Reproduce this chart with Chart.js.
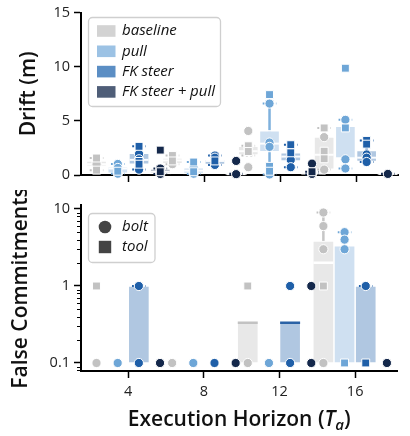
<!DOCTYPE html>
<html><head><meta charset="utf-8">
<script src="https://cdn.jsdelivr.net/npm/chart.js@4.4.0/dist/chart.umd.min.js"></script>
<style>
html,body{margin:0;padding:0;background:#fff;}
body{width:410px;height:436px;position:relative;overflow:hidden}
canvas{position:absolute;left:0}
#topChart{top:0}
#botChart{top:190px}
</style></head>
<body>
<canvas id="topChart" width="410" height="190"></canvas>
<canvas id="botChart" width="410" height="246"></canvas>
<script>
// ---------------- data ----------------
const horizons = [4, 8, 12, 16];
const methods = ['baseline', 'pull', 'FK steer', 'FK steer + pull'];
const markerKinds = ['bolt', 'tool'];
const driftTicks = [0, 5, 10, 15];
const fcTicks = [0.1, 1, 10];

// Drift (m) box stats per horizon: [whisker low, q1, median, q3, whisker high]
const driftBoxBaseline = [[0.45,0.78,1.0,1.33,1.57],[1.0,1.0,1.35,1.6,1.8],[1.8,1.8,2.2,2.7,2.7],[0.5,0.5,1.87,3.55,4.35]];
const driftBoxPull     = [[0.12,0.12,0.6,0.8,1.02],[0.1,0.1,0.4,0.72,1.2],[0.05,2.1,2.9,4.12,6.6],[0.6,1.45,1.55,4.55,5.1]];
const driftBoxFK       = [[0.5,0.95,1.4,2.05,2.65],[0.93,0.93,1.3,1.5,1.8],[0.72,1.25,1.7,2.1,2.8],[1.2,1.2,1.6,2.3,3.2]];
const driftBoxFKPull   = [[0.1,0.1,0.3,0.6,0.6],[0.06,0.06,0.08,0.12,0.12],[0.05,0.05,0.2,0.3,0.3],[0.08,0.08,0.1,0.12,0.12]];

// Drift (m) individual trials per horizon (bolt = circle, tool = square)
const driftBaselineBolt = [[1.2,1.0],[1.45,1.0],[4.07,2.55,0.72],[3.5,0.5]];
const driftBaselineTool = [[1.57,0.45],[1.8,1.3],[2.7,2.17],[4.35,2.2,1.5]];
const driftPullBolt     = [[1.02,0.65,0.12],[0.65,0.12],[6.6,3.0,2.6,0.05],[5.1,1.45,0.6]];
const driftPullTool     = [[0.35],[1.2,0.3],[7.43,0.8,0.35],[9.87,4.35]];
const driftFKBolt       = [[1.95,1.45,0.5],[1.8,1.6,0.93],[1.4,0.72],[1.9,1.6,1.2]];
const driftFKTool       = [[2.65,1.25,1.0],[1.3],[2.8,2.05],[3.2,2.85]];
const driftFKPullBolt   = [[0.6,0.1],[1.3,0.08],[1.05,0.1],[0.1]];
const driftFKPullTool   = [[2.3,0.3],[],[0.3],[]];

// False commitments: bar heights per horizon (0 = no bar)
const fcBarBaseline = [0, 0, 0.333, 3.84];
const fcBarPull     = [0, 0, 0, 3.33];
const fcBarFK       = [1, 0, 0.333, 1];
const fcBarFKPull   = [0, 0, 0, 0];
// False commitments: spread lines [low, high] per horizon
const fcSpreadBaseline = [null, null, null, [3, 9]];
const fcSpreadPull     = [null, null, null, [3, 5]];
const fcSpreadFK       = [[1, 1], null, null, [1, 1]];
const fcSpreadFKPull   = [null, null, null, null];
// False commitments: horizontal marks per horizon
const fcMarkBaseline = [null, null, 0.333, 2];
const fcMarkFK       = [null, null, 0.333, null];
// False commitments: individual trials per horizon (0 shown at floor)
const fcBaselineBolt = [[0],[0],[0],[9,6,3,0]];
const fcBaselineTool = [[1],[],[1],[1]];
const fcPullBolt     = [[0],[0],[0],[5,4,3]];
const fcPullTool     = [[],[],[],[0]];
const fcFKBolt       = [[1,0],[0],[1,0],[1]];
const fcFKTool       = [[],[],[],[0]];
const fcFKPullBolt   = [[0],[0],[1,0],[0]];
const fcFKPullTool   = [[],[],[],[]];
const fcFloor = 0.1;

// ---------------- styles ----------------
Chart.defaults.font.family = '"Open Sans", "DejaVu Sans", sans-serif';
const X_OFF = [-1.68, -0.56, 0.56, 1.68];
const COL_PT = ['#c2c2c2', '#6ea6d7', '#1f5fa8', '#14284b'];
const COL_FILL = ['#e8e8e8', '#cfe0f1', '#b0c7e1', '#a6aebd'];
const COL_WHISK = ['#c6c6c6', '#7fb1dd', '#3d76b6', '#4a5a78'];
const COL_LEG = ['#d3d3d3', '#9cc2e4', '#5b8ec4', '#4f5e78'];
const BAR_W = 21;

const pos = (h, m) => h + X_OFF[m];

const driftBoxes = [driftBoxBaseline, driftBoxPull, driftBoxFK, driftBoxFKPull];
const driftBolt = [driftBaselineBolt, driftPullBolt, driftFKBolt, driftFKPullBolt];
const driftTool = [driftBaselineTool, driftPullTool, driftFKTool, driftFKPullTool];
const fcBars = [fcBarBaseline, fcBarPull, fcBarFK, fcBarFKPull];
const fcSpreads = [fcSpreadBaseline, fcSpreadPull, fcSpreadFK, fcSpreadFKPull];
const fcBolt = [fcBaselineBolt, fcPullBolt, fcFKBolt, fcFKPullBolt];
const fcTool = [fcBaselineTool, fcPullTool, fcFKTool, fcFKPullTool];

function pointsFor(bolt, tool, m, floor) {
  const out = [];
  horizons.forEach((h, i) => {
    bolt[i].forEach(v => out.push({x: pos(h, m), y: floor ? Math.max(v, floor) : v, s: 'circle'}));
    tool[i].forEach(v => out.push({x: pos(h, m), y: floor ? Math.max(v, floor) : v, s: 'rect'}));
  });
  return out;
}
function pointDataset(data, m) {
  return {type: 'scatter', data, order: 0, clip: false,
    backgroundColor: COL_PT[m], borderColor: '#ffffff', borderWidth: 1,
    pointStyle: c => (c.raw && c.raw.s === 'rect') ? 'rect' : 'circle',
    pointRadius: c => (c.raw && c.raw.s === 'rect') ? 5.6 : 4.6};
}
function capDataset(pairs, m) {
  const data = [];
  pairs.forEach(([x, y]) => { data.push({x: x - 0.36, y}, {x: x + 0.36, y}, {x, y: null}); });
  return {type: 'line', data, order: 1, clip: false, borderColor: COL_PT[m], borderWidth: 2,
    borderDash: [2, 2.4], pointRadius: 0, spanGaps: false, fill: false};
}
function vlineDataset(segs, m, width) {
  const data = [];
  segs.forEach(([x, a, b]) => { data.push({x, y: a}, {x, y: b}, {x, y: null}); });
  return {type: 'line', data, order: 4, borderColor: COL_WHISK[m], borderWidth: width,
    pointRadius: 0, spanGaps: false, fill: false};
}

// ---------------- top chart datasets ----------------
const topDatasets = [];
for (let m = 0; m < 4; m++) {
  const box = driftBoxes[m];
  topDatasets.push({type: 'bar', label: methods[m], order: 3, grouped: false,
    data: horizons.map((h, i) => ({x: pos(h, m), y: [box[i][1], box[i][3]]})),
    backgroundColor: COL_FILL[m], borderColor: 'rgba(255,255,255,0.9)', borderWidth: 1.5,
    borderSkipped: false, barThickness: BAR_W});
  topDatasets.push(vlineDataset(horizons.map((h, i) => [pos(h, m), box[i][0], box[i][4]]), m, 2.5));
  const caps = [];
  horizons.forEach((h, i) => { caps.push([pos(h, m), box[i][0]], [pos(h, m), box[i][4]]); });
  topDatasets.push(capDataset(caps, m));
  topDatasets.push({type: 'scatter', order: 2, clip: false,
    data: horizons.map((h, i) => ({x: pos(h, m), y: box[i][2]})),
    pointStyle: 'line', pointRadius: 9.5, borderColor: 'rgba(255,255,255,0.95)', borderWidth: 2});
  topDatasets.push(pointDataset(pointsFor(driftBolt[m], driftTool[m], m, 0), m));
}

// ---------------- bottom chart datasets ----------------
const botDatasets = [];
for (let m = 0; m < 4; m++) {
  const bars = [];
  horizons.forEach((h, i) => { if (fcBars[m][i] > 0) bars.push({x: pos(h, m), y: [fcFloor, fcBars[m][i]]}); });
  botDatasets.push({type: 'bar', label: methods[m], order: 3, grouped: false, data: bars,
    backgroundColor: COL_FILL[m], borderColor: '#ffffff', borderWidth: 1, borderSkipped: false, barThickness: BAR_W});
  const segs = [], caps = [];
  horizons.forEach((h, i) => {
    const s = fcSpreads[m][i];
    if (s) { segs.push([pos(h, m), s[0], s[1]]); caps.push([pos(h, m), s[1]]); }
  });
  botDatasets.push(Object.assign(vlineDataset(segs, m, m === 0 ? 2.5 : 1.5), {order: 4}));
  botDatasets.push(capDataset(caps, m));
  botDatasets.push(pointDataset(pointsFor(fcBolt[m], fcTool[m], m, fcFloor), m));
}
const markData = [];
horizons.forEach((h, i) => {
  if (fcMarkBaseline[i] != null) markData.push({x: pos(h, 0), y: fcMarkBaseline[i], c: i === 3 ? '#ffffff' : '#c2c2c2'});
  if (fcMarkFK[i] != null) markData.push({x: pos(h, 2), y: fcMarkFK[i], c: '#2a62a6'});
});
botDatasets.push({type: 'scatter', order: 2, data: markData, pointStyle: 'line', pointRadius: 10,
  borderWidth: 2.5, borderColor: c => (c.raw ? c.raw.c : '#fff')});

// ---------------- plugins ----------------
function roundRect(ctx, x, y, w, h, r) {
  ctx.beginPath();
  ctx.moveTo(x + r, y); ctx.lineTo(x + w - r, y); ctx.arcTo(x + w, y, x + w, y + r, r);
  ctx.lineTo(x + w, y + h - r); ctx.arcTo(x + w, y + h, x + w - r, y + h, r);
  ctx.lineTo(x + r, y + h); ctx.arcTo(x, y + h, x, y + h - r, r);
  ctx.lineTo(x, y + r); ctx.arcTo(x, y, x + r, y, r); ctx.closePath();
}
const legendTop = {id: 'legendTop', afterDraw(chart) {
  const ctx = chart.ctx; ctx.save();
  roundRect(ctx, 88.5, 17.5, 132, 89, 4);
  ctx.fillStyle = 'rgba(255,255,255,0.85)'; ctx.fill();
  ctx.strokeStyle = '#cfcfcf'; ctx.lineWidth = 1.3; ctx.stroke();
  ctx.font = 'italic 15px "Open Sans"'; ctx.textBaseline = 'middle'; ctx.fillStyle = '#111';
  methods.forEach((name, i) => {
    const cy = 31 + 20.3 * i;
    ctx.fillStyle = COL_LEG[i]; ctx.fillRect(97, cy - 5.8, 18.5, 11.6);
    ctx.fillStyle = '#111'; ctx.fillText(name, 122, cy);
  });
  ctx.restore();
}};
const legendBot = {id: 'legendBot', afterDraw(chart) {
  const ctx = chart.ctx; ctx.save();
  roundRect(ctx, 88.5, 23.5, 66.5, 49, 4);
  ctx.fillStyle = 'rgba(255,255,255,0.85)'; ctx.fill();
  ctx.strokeStyle = '#cfcfcf'; ctx.lineWidth = 1.3; ctx.stroke();
  ctx.fillStyle = '#444';
  ctx.beginPath(); ctx.arc(105, 37, 6.3, 0, Math.PI * 2); ctx.fill();
  ctx.fillRect(105 - 6.2, 57 - 6.2, 12.4, 12.4);
  ctx.font = 'italic 15px "Open Sans"'; ctx.textBaseline = 'middle'; ctx.fillStyle = '#111';
  markerKinds.forEach((k, i) => ctx.fillText(k, 122, 37 + 20 * i));
  ctx.restore();
}};
const xTitle = {id: 'xTitle', afterDraw(chart) {
  const ctx = chart.ctx; const a = chart.chartArea; ctx.save();
  const parts = [
    ['Execution Horizon (', '600 21px "Open Sans"', 0],
    ['T', 'italic 600 21px "Open Sans"', 0],
    ['a', 'italic 600 15px "Open Sans"', 4],
    [')', '600 21px "Open Sans"', 0]];
  let total = 0;
  parts.forEach(p => { ctx.font = p[1]; p.w = ctx.measureText(p[0]).width; total += p.w; });
  let x = (a.left + a.right) / 2 - total / 2;
  const base = 236;
  ctx.fillStyle = '#111'; ctx.textBaseline = 'alphabetic'; ctx.textAlign = 'left';
  parts.forEach(p => { ctx.font = p[1]; ctx.fillText(p[0], x, base + p[2]); x += p.w; });
  ctx.restore();
}};
const minorTicks = {id: 'minorTicks', afterDraw(chart) {
  const s = chart.scales.y; const ctx = chart.ctx; ctx.save();
  ctx.strokeStyle = '#000'; ctx.lineWidth = 1;
  for (let e = -2; e <= 1; e++) for (let k = 2; k <= 9; k++) {
    const v = k * Math.pow(10, e);
    if (v < s.min || v > s.max) continue;
    const y = Math.round(s.getPixelForValue(v)) + 0.5;
    ctx.beginPath(); ctx.moveTo(s.right - 4, y); ctx.lineTo(s.right, y); ctx.stroke();
  }
  ctx.restore();
}};

const axisGrid = {drawOnChartArea: false, tickLength: 7, tickColor: '#000', tickWidth: 1.5, offset: false};
const axisBorder = {color: '#000', width: 2};
const tickFont = {size: 14.5};

new Chart(document.getElementById('topChart'), {
  type: 'bar',
  data: {datasets: topDatasets},
  options: {
    responsive: false, maintainAspectRatio: false, animation: false, devicePixelRatio: 1, events: [],
    layout: {padding: {top: 9, left: 0, right: 0, bottom: 0}},
    plugins: {legend: {display: false}, tooltip: {enabled: false}},
    scales: {
      x: {type: 'linear', min: 1.5, max: 18.24, offset: false,
        afterBuildTicks: s => { s.ticks = horizons.map(v => ({value: v})); },
        afterFit: s => { s.height = 15; },
        ticks: {callback: () => '', padding: 0},
        grid: axisGrid, border: axisBorder},
      y: {type: 'linear', min: 0, max: 15,
        afterBuildTicks: s => { s.ticks = driftTicks.map(v => ({value: v})); },
        afterFit: s => { s.width = 81; },
        ticks: {color: '#222', font: tickFont, padding: 4},
        grid: axisGrid, border: axisBorder,
        title: {display: true, text: 'Drift (m)', color: '#111',
          font: {size: 21, weight: '600'}, padding: {top: 16, bottom: 0}}}
    }
  },
  plugins: [legendTop]
});

new Chart(document.getElementById('botChart'), {
  type: 'bar',
  data: {datasets: botDatasets},
  options: {
    responsive: false, maintainAspectRatio: false, animation: false, devicePixelRatio: 1, events: [],
    layout: {padding: {top: 15, left: 0, right: 0, bottom: 0}},
    plugins: {legend: {display: false}, tooltip: {enabled: false}},
    scales: {
      x: {type: 'linear', min: 1.5, max: 18.24, offset: false,
        afterBuildTicks: s => { s.ticks = horizons.map(v => ({value: v})); },
        afterFit: s => { s.height = 65; },
        ticks: {color: '#222', font: tickFont, padding: 5, callback: v => String(v)},
        grid: axisGrid, border: axisBorder},
      y: {type: 'logarithmic', min: 0.0787, max: 11.27,
        afterBuildTicks: s => { s.ticks = fcTicks.map(v => ({value: v})); },
        afterFit: s => { s.width = 81; },
        ticks: {color: '#222', font: tickFont, padding: 4, callback: v => String(v)},
        grid: axisGrid, border: axisBorder,
        title: {display: true, text: 'False Commitments', color: '#111',
          font: {size: 21, weight: '600'}, padding: {top: 8, bottom: 0}}}
    }
  },
  plugins: [legendBot, xTitle, minorTicks]
});
</script>
</body></html>
